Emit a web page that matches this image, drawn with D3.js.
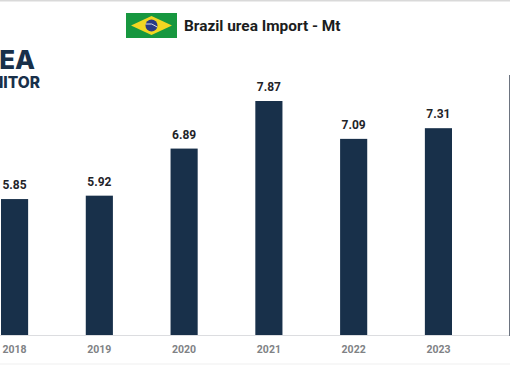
<!DOCTYPE html>
<html>
<head>
<meta charset="utf-8">
<script src="https://cdn.jsdelivr.net/npm/d3@7"></script>
<style>
    html, body { margin: 0; padding: 0; background: #fff; }
    svg { display: block; font-family: Roboto, sans-serif; }
    .value { font-size: 12px; font-weight: 700; fill: #1f2429; text-anchor: middle; }
    .year { font-size: 10.5px; font-weight: 700; fill: #808285; text-anchor: middle; }
</style>
</head>
<body>
<svg id="chart" width="510" height="365"></svg>
<script>
const years = ["2018", "2019", "2020", "2021", "2022", "2023"];
const imports = [5.85, 5.92, 6.89, 7.87, 7.09, 7.31];
const title = "Brazil urea Import - Mt";
const logoLines = ["UREA", "MONITOR"];

const svg = d3.select("#chart");

const x = d3.scaleBand()
    .domain(years)
    .range([1, 452])
    .paddingInner(0.68);

// the bars do not start from zero in the original
const y = d3.scaleLinear()
    .domain([3.05, 7.87])
    .range([335, 101]);

// frame lines
svg.append("rect").attr("x", 0).attr("y", 0).attr("width", 510).attr("height", 1.5).attr("fill", "#d9d9d9");
svg.append("rect").attr("x", 0).attr("y", 335).attr("width", 510).attr("height", 1).attr("fill", "#dcdde0");
svg.append("rect").attr("x", 0).attr("y", 363.5).attr("width", 510).attr("height", 1).attr("fill", "#efefef");
svg.append("rect").attr("x", 509).attr("y", 75).attr("width", 1).attr("height", 261).attr("fill", "#6d7480");

// title and flag
const flag = svg.append("g").attr("transform", "translate(126,13)");
flag.append("rect").attr("width", 51).attr("height", 25).attr("fill", "#17973f");
flag.append("path").attr("d", "M25.5,3 L46,12.5 L25.5,22 L5,12.5 Z").attr("fill", "#f2d622");
flag.append("circle").attr("cx", 25.5).attr("cy", 12.5).attr("r", 6).attr("fill", "#2a3a86");
flag.append("path").attr("d", "M19.8,11 Q26,9.5 31.2,14").attr("fill", "none").attr("stroke", "#d8dce8").attr("stroke-width", 1);

svg.append("text")
    .attr("x", 184)
    .attr("y", 30.5)
    .attr("font-size", 15.4)
    .attr("font-weight", 700)
    .attr("fill", "#1b1d20")
    .text(title);

// logo, cut off by the left edge
svg.append("text")
    .attr("x", 35)
    .attr("y", 69)
    .attr("text-anchor", "end")
    .attr("font-family", "Inter, sans-serif")
    .attr("font-size", 26)
    .attr("font-weight", 800)
    .attr("fill", "#18304a")
    .text(logoLines[0]);
svg.append("text")
    .attr("x", 40)
    .attr("y", 88)
    .attr("text-anchor", "end")
    .attr("font-family", "Inter, sans-serif")
    .attr("font-size", 15.5)
    .attr("font-weight", 800)
    .attr("fill", "#18304a")
    .text(logoLines[1]);

const data = years.map((year, i) => ({ year, value: imports[i] }));

svg.selectAll("rect.bar")
    .data(data)
    .join("rect")
    .classed("bar", true)
    .attr("x", d => x(d.year))
    .attr("y", d => y(d.value))
    .attr("width", x.bandwidth())
    .attr("height", d => y.range()[0] - y(d.value))
    .attr("fill", "#18304a");

svg.selectAll("text.value")
    .data(data)
    .join("text")
    .classed("value", true)
    .attr("x", d => x(d.year) + x.bandwidth() / 2)
    .attr("y", d => y(d.value) - 10)
    .text(d => d.value.toFixed(2));

svg.selectAll("text.year")
    .data(data)
    .join("text")
    .classed("year", true)
    .attr("x", d => x(d.year) + x.bandwidth() / 2)
    .attr("y", 353)
    .text(d => d.year);
</script>
</body>
</html>
